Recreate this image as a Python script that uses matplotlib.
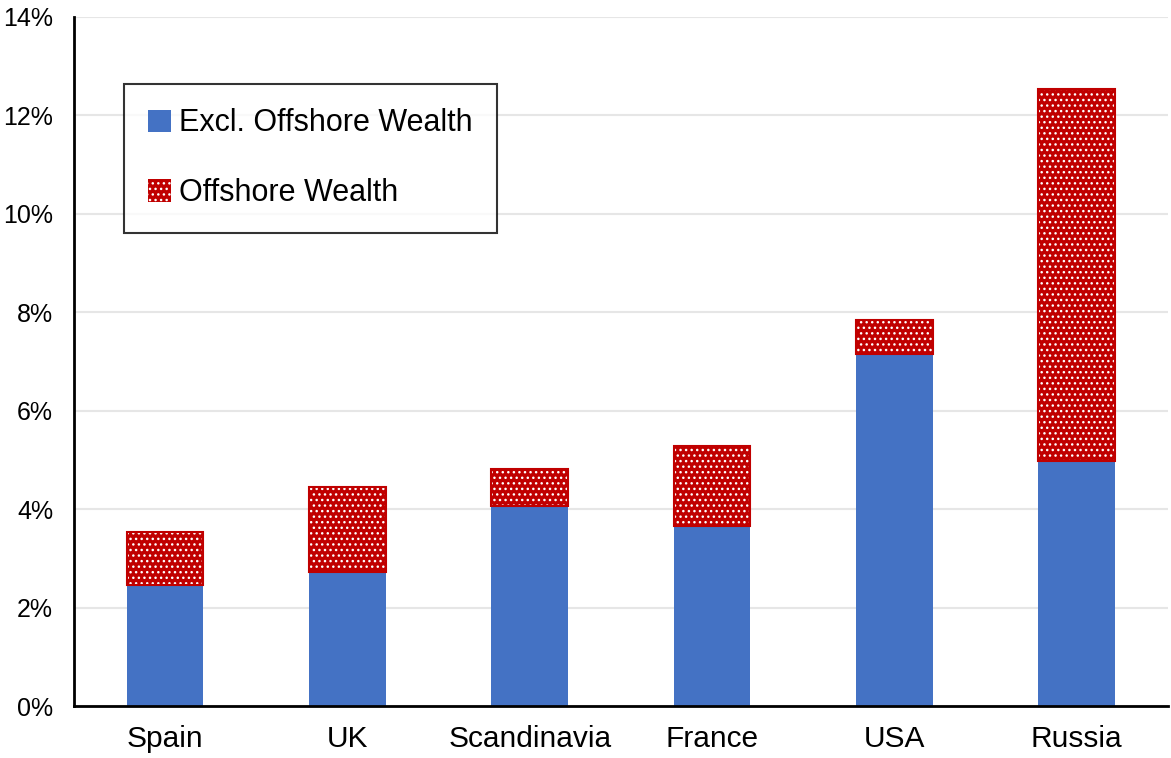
import matplotlib.pyplot as plt
from matplotlib.patches import Patch

plt.rcParams['font.family'] = ['Liberation Sans', 'DejaVu Sans']

countries = ['Spain', 'UK', 'Scandinavia', 'France', 'USA', 'Russia']
excl_offshore = [2.46, 2.72, 4.07, 3.66, 7.15, 4.98]
offshore = [1.08, 1.73, 0.75, 1.62, 0.70, 7.56]

blue = '#4472C4'
red = '#C00000'

fig = plt.figure(figsize=(11.71, 7.58), dpi=100)
ax = fig.add_axes([0.0632, 0.0686, 0.934, 0.909])

x = range(len(countries))
w = 0.42
ax.bar(x, excl_offshore, width=w, color=blue, zorder=3)
ax.bar(x, offshore, bottom=excl_offshore, width=w, color=red,
       edgecolor='white', hatch='...', linewidth=0, zorder=3)
ax.bar(x, offshore, bottom=excl_offshore, width=w, fill=False,
       edgecolor=red, linewidth=1.5, zorder=4)

ax.set_xlim(-0.5, len(countries) - 0.5)
ax.set_ylim(0, 14)
ax.set_yticks(range(0, 15, 2))
ax.set_yticklabels([f'{v}%' for v in range(0, 15, 2)], fontsize=18)
ax.set_xticks(list(x))
ax.set_xticklabels(countries, fontsize=21.5)
ax.tick_params(axis='both', length=0)
ax.tick_params(axis='x', pad=14)
ax.tick_params(axis='y', pad=15)
ax.yaxis.grid(True, color='#E6E6E6', linewidth=1.5, zorder=0)
ax.set_axisbelow(True)
for s in ['top', 'right']:
    ax.spines[s].set_visible(False)
for s in ['left', 'bottom']:
    ax.spines[s].set_linewidth(2)
    ax.spines[s].set_zorder(5)

handles = [Patch(facecolor=blue, label='Excl. Offshore Wealth'),
           Patch(facecolor=red, edgecolor='white', hatch='...', linewidth=0,
                 label='Offshore Wealth')]
leg = ax.legend(handles=handles, loc='upper left', bbox_to_anchor=(0.0457, 0.9028),
                fontsize=22, frameon=True, fancybox=False, edgecolor='black',
                handlelength=0.75, handleheight=0.75, handletextpad=0.25,
                labelspacing=1.3, borderpad=0.8, borderaxespad=0)
leg.get_frame().set_linewidth(1.5)

fig.savefig('out.png', dpi=100)
